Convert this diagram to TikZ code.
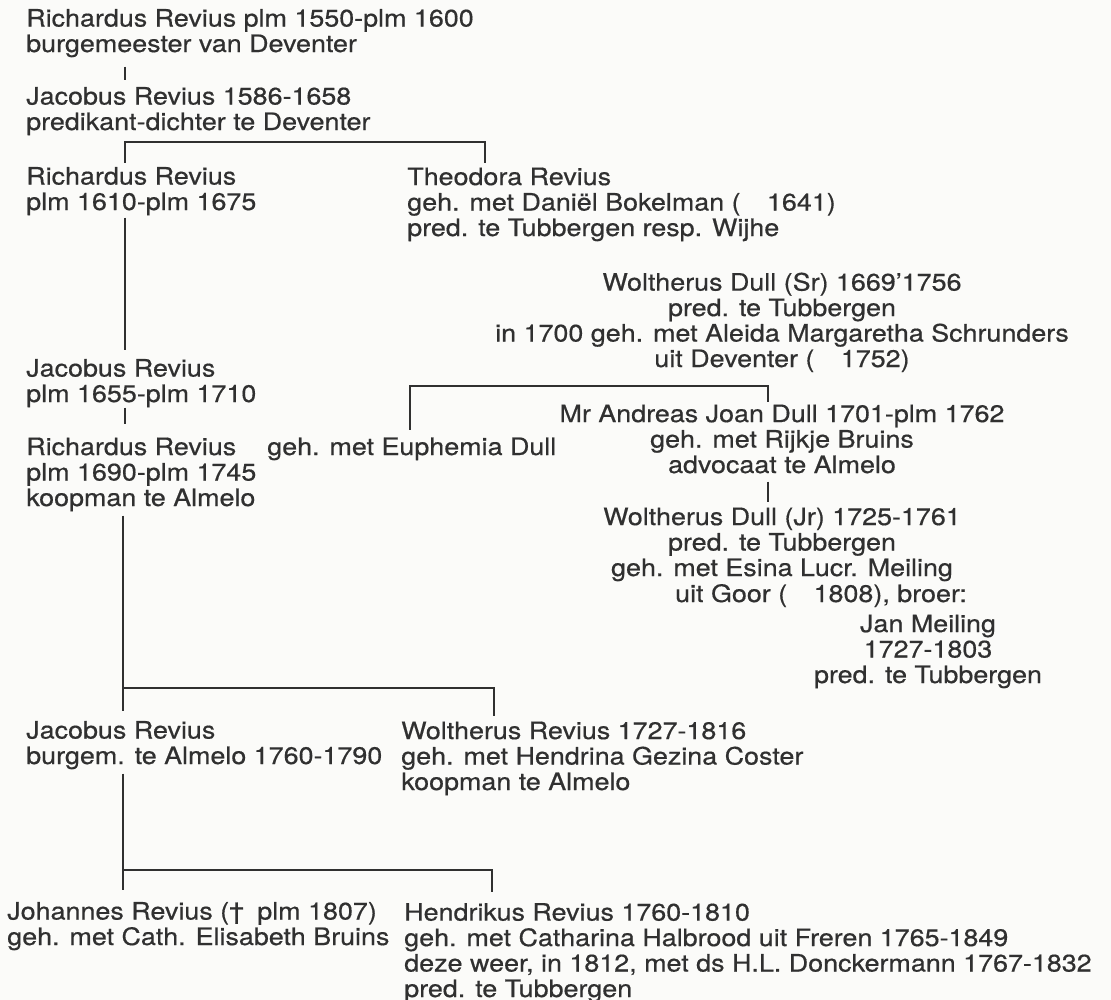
\documentclass[tikz,border=0pt]{standalone}
\usepackage{fontspec}
\setmainfont{TeX Gyre Heros}[FakeStretch=1.12,FakeBold=0.5]
\definecolor{ink}{RGB}{48,48,48}
\definecolor{paper}{RGB}{251,251,249}

\begin{document}
\begin{tikzpicture}[x=0.75pt,y=0.75pt,yscale=-1,xscale=1,
	person/.style={anchor=base west,inner sep=0pt,align=left,text=ink,font=\fontsize{18}{19.1}\selectfont},
	personc/.style={person,anchor=base,align=center},
	branch/.style={draw=ink,line width=1.9pt}]
	\fill [paper] (0,0) rectangle (1111,1000);
	\useasboundingbox (0,0) rectangle (1111,1000);

	% Text Node
	\draw (26,52) node [person] (rr1550) {Richardus Revius plm 1550-plm 1600\\burgemeester van Deventer};
	% Text Node
	\draw (26,130) node [person] (jr1586) {Jacobus Revius 1586-1658\\predikant-dichter te Deventer};
	% Text Node
	\draw (26,210) node [person] (rr1610) {Richardus Revius\\plm 1610-plm 1675};
	% Text Node
	\draw (407,236) node [person] (theodora) {Theodora Revius\\geh. met Daniël Bokelman (\hspace{1.1em}1641)\\pred. te Tubbergen resp. Wijhe};
	% Text Node
	\draw (782,367) node [personc] (wdsr) {Woltherus Dull (Sr) 1669'1756\\pred. te Tubbergen\\in 1700 geh. met Aleida Margaretha Schrunders\\uit Deventer (\hspace{1.1em}1752)};
	% Text Node
	\draw (26,402) node [person] (jr1655) {Jacobus Revius\\plm 1655-plm 1710};
	% Text Node
	\draw (26,506) node [person] (rr1690) {Richardus Revius\\plm 1690-plm 1745\\koopman te Almelo};
	% Text Node
	\draw (267,455) node [person] (euphemia) {geh. met Euphemia Dull};
	% Text Node
	\draw (782,473) node [personc] (ajdull) {Mr Andreas Joan Dull 1701-plm 1762\\geh. met Rijkje Bruins\\advocaat te Almelo};
	% Text Node
	\draw (782,576) node [personc] (wdjr) {Woltherus Dull (Jr) 1725-1761\\pred. te Tubbergen\\geh. met Esina Lucr. Meiling};
	% Text Node
	\draw (821,602) node [personc] (goor) {uit Goor (\hspace{1.1em}1808), broer:};
	% Text Node
	\draw (928,683) node [personc] (meiling) {Jan Meiling\\1727-1803\\pred. te Tubbergen};
	% Text Node
	\draw (26,764) node [person] (jr1760) {Jacobus Revius\\burgem. te Almelo 1760-1790};
	% Text Node
	\draw (401,790) node [person] (wrevius) {Woltherus Revius 1727-1816\\geh. met Hendrina Gezina Coster\\koopman te Almelo};
	% Text Node
	\draw (7,945) node [person] (johannes) {Johannes Revius (†\hspace{0.55em}plm 1807)\\geh. met Cath. Elisabeth Bruins};
	% Text Node
	\draw (404,997) node [person] (hendrikus) {Hendrikus Revius 1760-1810\\geh. met Catharina Halbrood uit Freren 1765-1849\\deze weer, in 1812, met ds H.L. Donckermann 1767-1832\\pred. te Tubbergen};

	% bracket corners
	\coordinate (lc) at (125,0);
	\coordinate (b1l) at (125,142);
	\coordinate (b1r) at (485,142);
	\coordinate (b2l) at (410,386);
	\coordinate (b2r) at (768,386);
	\coordinate (b3l) at (123,688);
	\coordinate (b3r) at (494,688);
	\coordinate (b4l) at (123,870);
	\coordinate (b4r) at (492,870);

	%Straight Lines
	\draw [branch, shorten <=6.75pt, shorten >=5pt] (rr1550.south -| lc) -- (jr1586.north -| lc);
	%Straight Lines
	\draw [branch, shorten <=3pt, shorten >=3pt] (b1l |- rr1610.north) -- (b1l) -- (b1r) -- (b1r |- theodora.north);
	%Straight Lines
	\draw [branch, shorten <=1.5pt, shorten >=6.5pt] (rr1610.south -| lc) -- (jr1655.north -| lc);
	%Straight Lines
	\draw [branch, shorten >=10pt] (jr1655.south -| lc) -- (rr1690.north -| lc);
	%Straight Lines
	\draw [branch, shorten <=5.7pt, shorten >=1.9pt] (b2l |- euphemia.north) -- (b2l) -- (b2r) -- (b2r |- ajdull.north);
	%Straight Lines
	\draw [branch, shorten <=6pt, shorten >=4pt] (ajdull.south -| b2r) -- (wdjr.north -| b2r);
	%Straight Lines
	\draw [branch, shorten <=3pt, shorten >=4pt] (rr1690.south -| b3l) -- (b3l) -- (b3r) -- (b3r |- wrevius.north);
	\draw [branch, shorten >=7pt] (b3l) -- (b3l |- jr1760.north);
	%Straight Lines
	\draw [branch, shorten <=3pt, shorten >=8pt] (jr1760.south -| b4l) -- (b4l) -- (b4r) -- (b4r |- hendrikus.north);
	\draw [branch, shorten >=8.6pt] (b4l) -- (b4l |- johannes.north);

\end{tikzpicture}
\end{document}
